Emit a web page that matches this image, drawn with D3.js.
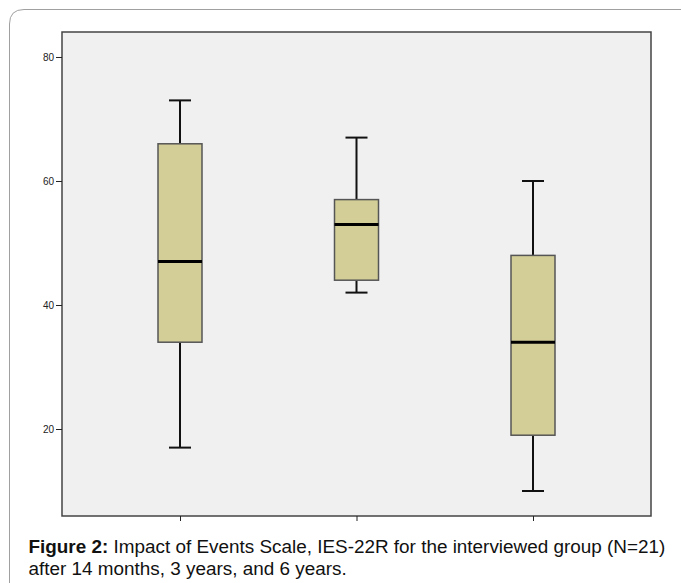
<!DOCTYPE html>
<html><head><meta charset="utf-8">
<script src="https://cdn.jsdelivr.net/npm/d3@7"></script>
<style>body{margin:0;background:#fff;} svg{display:block;}</style>
</head><body>
<svg id="c" width="681" height="583"></svg>
<script>
const categories = ["14 months", "3 years", "6 years"];
const whiskerMax = [73, 67, 60];
const q3 = [66, 57, 48];
const median = [47, 53, 34];
const q1 = [34, 44, 19];
const whiskerMin = [17, 42, 10];
const yTicks = [20, 40, 60, 80];

const svg = d3.select("#c");
// outer frame (rounded, clipped at right/bottom)
svg.append("path")
  .attr("d", "M9.5,583 L9.5,24 Q9.5,9.5 24,9.5 L681,9.5")
  .attr("fill", "none").attr("stroke", "#a0a0a0").attr("stroke-width", 1);

const L = 62, T = 32, R = 651, B = 516;
const y = d3.scaleLinear().domain([5.97, 84.03]).range([B, T]);
const x = d3.scalePoint().domain(categories).range([180, 533]);

svg.append("rect").attr("x", L).attr("y", T).attr("width", R - L).attr("height", B - T)
  .attr("fill", "#f0f0f0").attr("stroke", "#444").attr("stroke-width", 1.5);

const ya = svg.append("g").attr("transform", `translate(${L},0)`)
  .call(d3.axisLeft(y).tickValues(yTicks).tickSize(6).tickPadding(2).tickFormat(d3.format("d")));
ya.select(".domain").remove();
ya.selectAll("line").attr("stroke", "#222");
ya.selectAll("text").attr("font-family", "Liberation Sans, Arial, sans-serif").attr("font-size", 10).attr("fill", "#222");

const xa = svg.append("g").attr("transform", `translate(0,${B})`)
  .call(d3.axisBottom(x).tickSize(5).tickFormat(""));
xa.select(".domain").remove();
xa.selectAll("line").attr("stroke", "#222");

const boxW = 44, capW = 22;
categories.forEach((c, i) => {
  const cx = x(c);
  const g = svg.append("g");
  g.append("line").attr("x1", cx).attr("x2", cx).attr("y1", y(whiskerMax[i])).attr("y2", y(q3[i]))
    .attr("stroke", "#111").attr("stroke-width", 2);
  g.append("line").attr("x1", cx).attr("x2", cx).attr("y1", y(q1[i])).attr("y2", y(whiskerMin[i]))
    .attr("stroke", "#111").attr("stroke-width", 2);
  [whiskerMax[i], whiskerMin[i]].forEach(v => {
    g.append("line").attr("x1", cx - capW / 2).attr("x2", cx + capW / 2).attr("y1", y(v)).attr("y2", y(v))
      .attr("stroke", "#111").attr("stroke-width", 2);
  });
  g.append("rect").attr("x", cx - boxW / 2).attr("y", y(q3[i])).attr("width", boxW)
    .attr("height", y(q1[i]) - y(q3[i])).attr("fill", "#d3ce97").attr("stroke", "#555").attr("stroke-width", 1.5);
  g.append("line").attr("x1", cx - boxW / 2).attr("x2", cx + boxW / 2).attr("y1", y(median[i])).attr("y2", y(median[i]))
    .attr("stroke", "#000").attr("stroke-width", 3);
});

const cap = svg.append("g").attr("font-family", "Liberation Sans, Arial, sans-serif").attr("font-size", 18.9).attr("fill", "#111");
const t1 = cap.append("text").attr("x", 28.5).attr("y", 553);
t1.append("tspan").attr("font-weight", "bold").text("Figure 2:");
t1.append("tspan").text(" Impact of Events Scale, IES-22R for the interviewed group (N=21)");
cap.append("text").attr("x", 28.5).attr("y", 575).text("after 14 months, 3 years, and 6 years.");
</script>
</body></html>
